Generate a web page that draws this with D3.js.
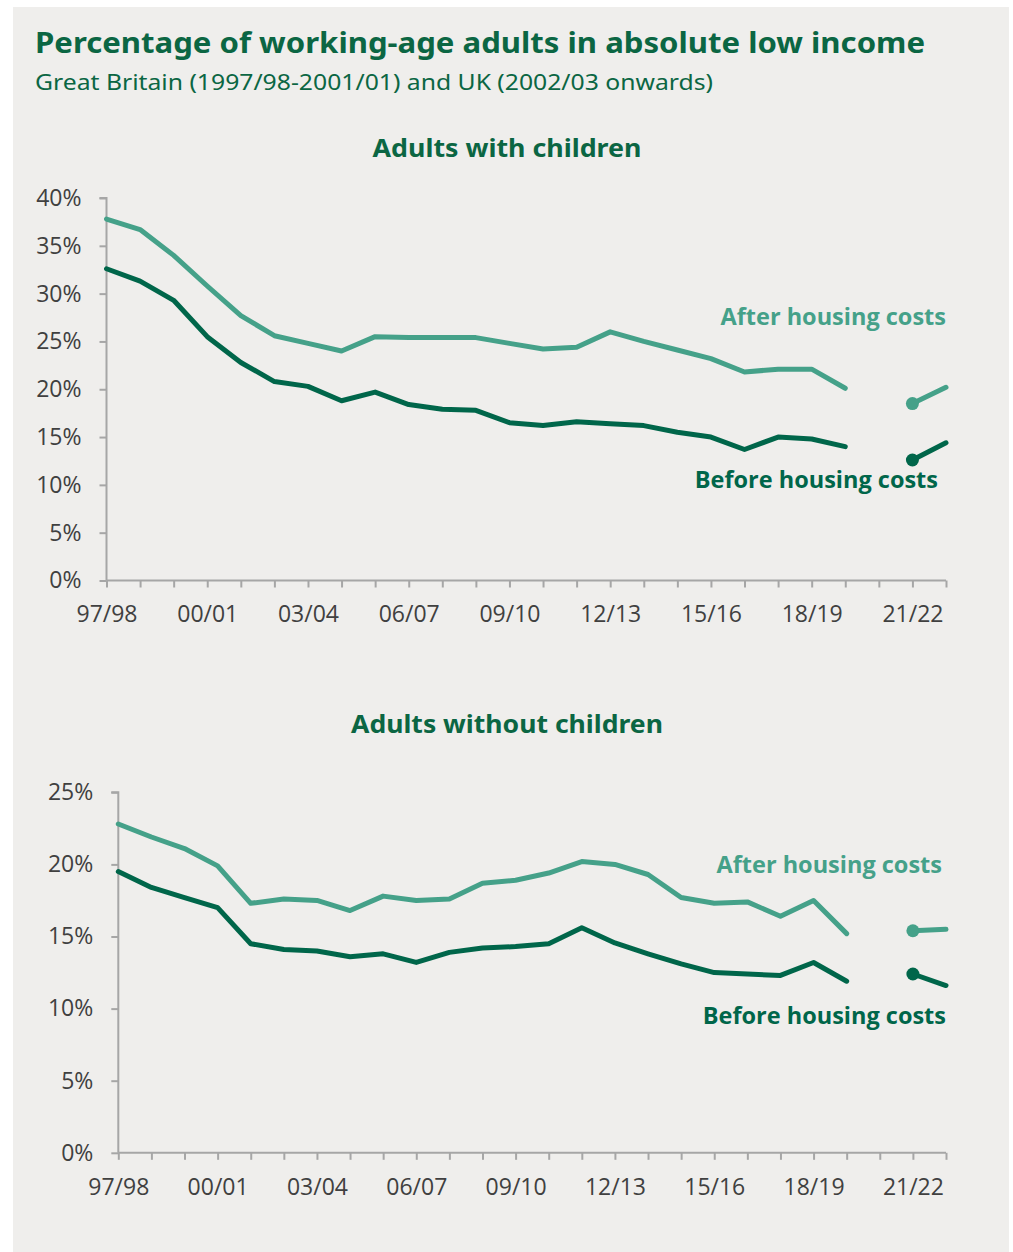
<!DOCTYPE html>
<html>
<head>
<meta charset="utf-8">
<script src="https://cdn.jsdelivr.net/npm/d3@7"></script>
<style>
  html, body { margin: 0; padding: 0; background: #ffffff; }
  svg { display: block; }
</style>
</head>
<body>
<svg id="chart" width="1013" height="1252"></svg>
<script>
// Financial years shown on the category axis (20/21 has no data)
const years = ["97/98","98/99","99/00","00/01","01/02","02/03","03/04","04/05","05/06","06/07",
  "07/08","08/09","09/10","10/11","11/12","12/13","13/14","14/15","15/16","16/17",
  "17/18","18/19","19/20","20/21","21/22","22/23"];
const yearLabels = ["97/98","00/01","03/04","06/07","09/10","12/13","15/16","18/19","21/22"];

// Adults with children (%)
const withChildrenAHC = [37.8,36.7,34.0,30.8,27.7,25.6,24.8,24.0,25.5,25.4,25.4,25.4,24.8,24.2,24.4,26.0,
  25.0,24.1,23.2,21.8,22.1,22.1,20.1,null,18.5,20.2];
const withChildrenBHC = [32.6,31.3,29.3,25.5,22.8,20.8,20.3,18.8,19.7,18.4,17.9,17.8,16.5,16.2,16.6,16.4,
  16.2,15.5,15.0,13.7,15.0,14.8,14.0,null,12.6,14.4];

// Adults without children (%)
const withoutChildrenAHC = [22.8,21.9,21.1,19.9,17.3,17.6,17.5,16.8,17.8,17.5,17.6,18.7,18.9,19.4,20.2,20.0,
  19.3,17.7,17.3,17.4,16.4,17.5,15.2,null,15.4,15.5];
const withoutChildrenBHC = [19.5,18.4,17.7,17.0,14.5,14.1,14.0,13.6,13.8,13.2,13.9,14.2,14.3,14.5,15.6,14.55,
  13.8,13.1,12.5,12.4,12.3,13.2,11.9,null,12.4,11.6];

const ticksWith = [0,5,10,15,20,25,30,35,40];
const ticksWithout = [0,5,10,15,20,25];

const DARK = "#00664a";
const LIGHT = "#45a189";
const AXIS = "#a6a6a6";
const TEXT = "#404040";
const TITLE = "#0b6643";
const LABEL_FONT = "'Open Sans', 'Noto Sans', sans-serif";
const TITLE_FONT = "'Noto Sans', 'Open Sans', sans-serif";

const svg = d3.select("#chart");

svg.append("rect")
  .attr("x", 13).attr("y", 7).attr("width", 996).attr("height", 1245)
  .attr("fill", "#efeeec");

svg.append("text")
  .attr("x", 35).attr("y", 53)
  .attr("font-family", TITLE_FONT).attr("font-weight", 700).attr("font-size", 29)
  .attr("textLength", 890).attr("lengthAdjust", "spacingAndGlyphs")
  .attr("fill", TITLE)
  .text("Percentage of working-age adults in absolute low income");

svg.append("text")
  .attr("x", 35).attr("y", 90)
  .attr("font-family", TITLE_FONT).attr("font-size", 22)
  .attr("textLength", 678).attr("lengthAdjust", "spacingAndGlyphs")
  .attr("fill", TITLE)
  .text("Great Britain (1997/98-2001/01) and UK (2002/03 onwards)");

function panel(cfg) {
  const x = d3.scaleLinear().domain([0, years.length - 1]).range([cfg.left, cfg.right]);
  const y = d3.scaleLinear().domain([0, d3.max(cfg.yTicks)]).range([cfg.bottom, cfg.top]);
  const g = svg.append("g");

  g.append("text")
    .attr("x", 507).attr("y", cfg.titleY)
    .attr("text-anchor", "middle")
    .attr("font-family", TITLE_FONT).attr("font-weight", 700).attr("font-size", 24.5)
    .attr("textLength", cfg.titleW).attr("lengthAdjust", "spacingAndGlyphs")
    .attr("fill", TITLE)
    .text(cfg.title);

  // y axis
  const yAxis = d3.axisLeft(y).tickValues(cfg.yTicks).tickSize(7).tickPadding(cfg.yPad)
    .tickFormat(d => d + "%");
  const ya = g.append("g").attr("transform", `translate(${cfg.left},0)`).call(yAxis);

  // x axis: a tick for every year, labels every third year
  const xAxis = d3.axisBottom(x).tickValues(d3.range(years.length)).tickSize(7).tickPadding(cfg.xPad)
    .tickFormat(i => yearLabels.includes(years[i]) ? years[i] : "");
  const xa = g.append("g").attr("transform", `translate(0,${cfg.bottom})`).call(xAxis);

  [ya, xa].forEach(a => {
    a.select(".domain").attr("stroke", AXIS).attr("stroke-width", 2);
    a.selectAll(".tick line").attr("stroke", AXIS).attr("stroke-width", 2);
    a.selectAll(".tick text").attr("fill", TEXT).attr("font-family", LABEL_FONT).attr("font-size", 23);
  });
  ya.select(".domain").attr("d", `M-7,${cfg.top}H0V${cfg.bottom}`);
  xa.select(".domain").attr("d", `M${cfg.left},0H${cfg.right}`);

  const line = d3.line()
    .defined(d => d.v != null)
    .x(d => x(d.i)).y(d => y(d.v));

  const series = [
    { values: cfg.ahc, color: LIGHT },
    { values: cfg.bhc, color: DARK }
  ];
  series.forEach(s => {
    const pts = s.values.map((v, i) => ({ i, v }));
    g.append("path")
      .datum(pts)
      .attr("fill", "none")
      .attr("stroke", s.color)
      .attr("stroke-width", 5)
      .attr("stroke-linejoin", "round")
      .attr("stroke-linecap", "round")
      .attr("d", line);
    // marker on the first year after the gap
    const gapIdx = s.values.indexOf(null);
    const first = pts[gapIdx + 1];
    g.append("circle")
      .attr("cx", x(first.i)).attr("cy", y(first.v)).attr("r", 6.5)
      .attr("fill", s.color);
  });

  g.append("text")
    .attr("x", cfg.ahcLabel[0]).attr("y", cfg.ahcLabel[1])
    .attr("text-anchor", "end")
    .attr("font-family", LABEL_FONT).attr("font-weight", 700).attr("font-size", 23.5)
    .attr("fill", LIGHT)
    .text("After housing costs");
  g.append("text")
    .attr("x", cfg.bhcLabel[0]).attr("y", cfg.bhcLabel[1])
    .attr("text-anchor", "end")
    .attr("font-family", LABEL_FONT).attr("font-weight", 700).attr("font-size", 23.5)
    .attr("fill", DARK)
    .text("Before housing costs");
}

panel({
  title: "Adults with children", titleY: 157, titleW: 269,
  left: 106.5, right: 946, top: 198, bottom: 580.5,
  yTicks: ticksWith, yPad: 18, xPad: 18,
  ahc: withChildrenAHC, bhc: withChildrenBHC,
  ahcLabel: [946, 325], bhcLabel: [938, 488]
});

panel({
  title: "Adults without children", titleY: 733, titleW: 312,
  left: 118.3, right: 946, top: 792.3, bottom: 1152.8,
  yTicks: ticksWithout, yPad: 18, xPad: 19,
  ahc: withoutChildrenAHC, bhc: withoutChildrenBHC,
  ahcLabel: [942, 873], bhcLabel: [946, 1024]
});
</script>
</body>
</html>
